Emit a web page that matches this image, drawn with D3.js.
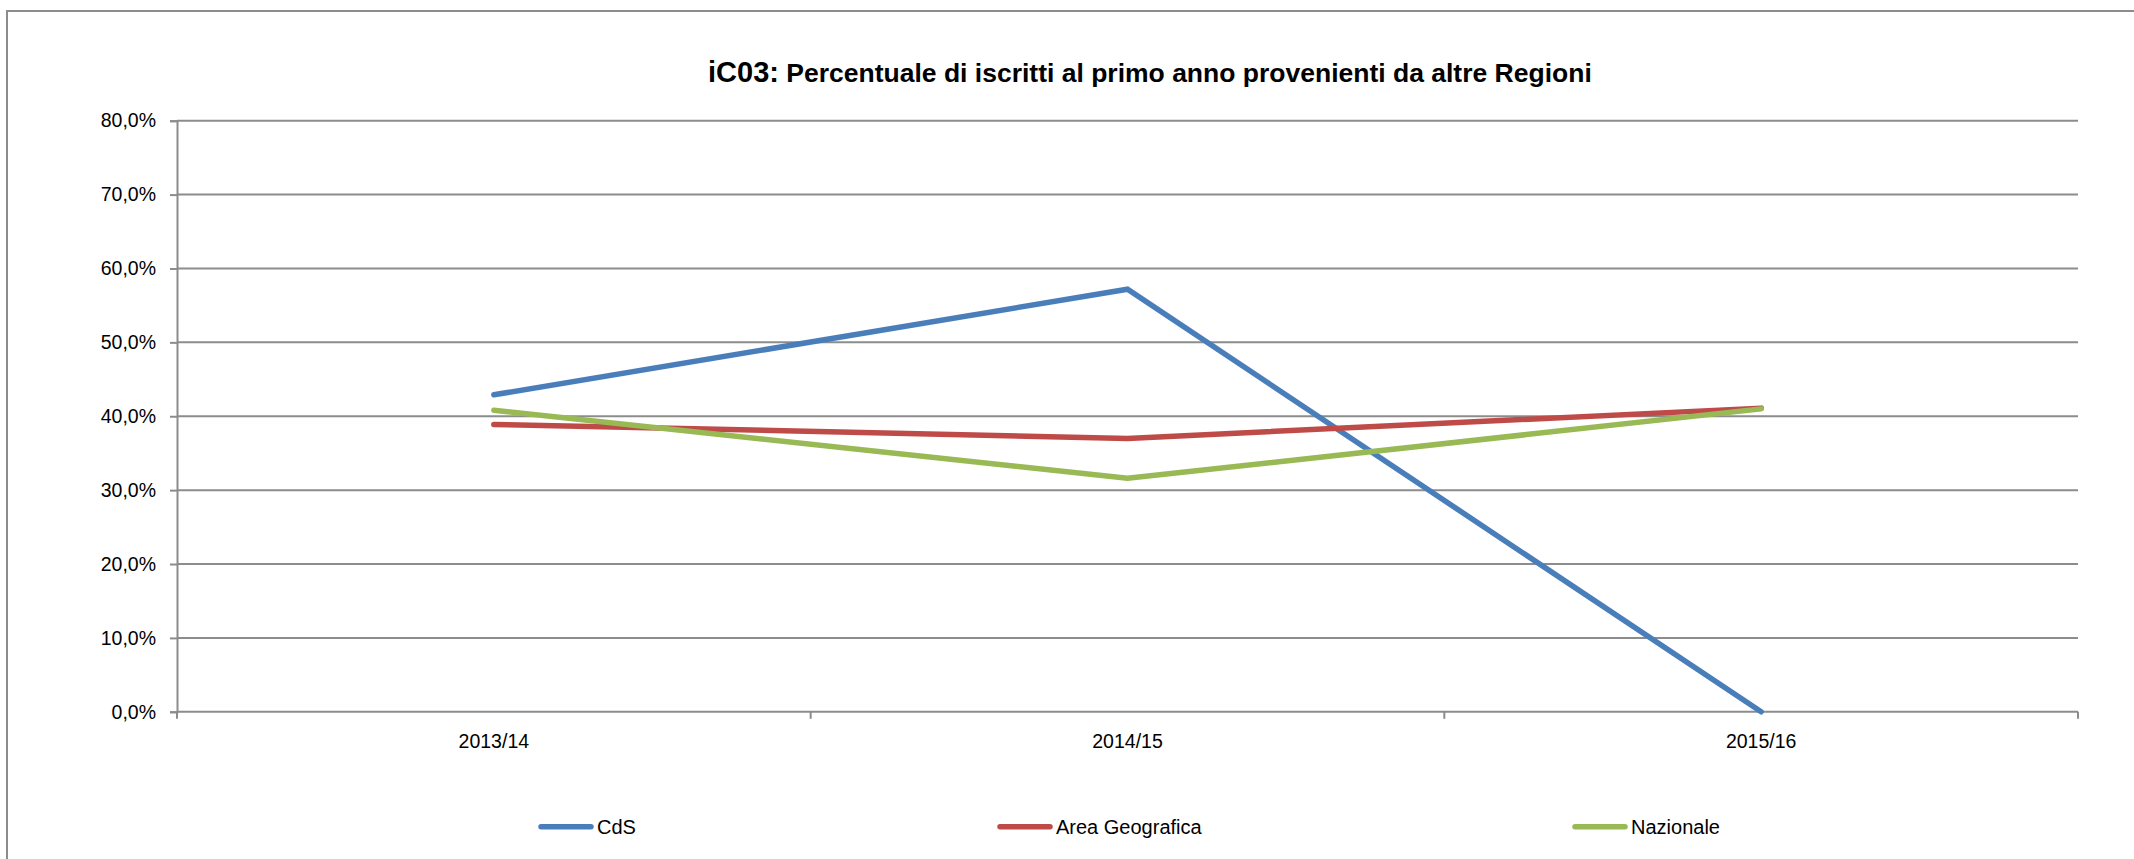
<!DOCTYPE html>
<html>
<head>
<meta charset="utf-8">
<script src="https://cdn.jsdelivr.net/npm/d3@7"></script>
<style>
  html, body { margin: 0; padding: 0; background: #fff; }
  svg { display: block; }
</style>
</head>
<body>
<svg id="chart" width="2134" height="859"></svg>
<script>
// categories and series
var categories = ["2013/14", "2014/15", "2015/16"];
var seriesNames = ["CdS", "Area Geografica", "Nazionale"];
var cdsValues = [0.429, 0.572, 0.0];
var areaValues = [0.389, 0.370, 0.411];
var nazValues = [0.408, 0.316, 0.410];
var yTicks = [0, 0.1, 0.2, 0.3, 0.4, 0.5, 0.6, 0.7, 0.8];
var colors = ["#4a7ebb", "#be4b48", "#98b954"];

(function () {
	var font = "'Liberation Sans', Arial, sans-serif";
	var svg = d3.select("#chart");

	var plotLeft = 177, plotRight = 2078, plotTop = 120.7, plotBottom = 711.8;

	// outer frame (right and bottom edges fall outside the picture)
	svg.append("path")
		.attr("d", "M7,870 L7,11 L2145,11")
		.style("fill", "none")
		.style("stroke", "#8c8c8c")
		.style("stroke-width", 2);

	var x = d3.scaleBand().domain(categories).range([plotLeft, plotRight]);
	var y = d3.scaleLinear().domain([0, 0.8]).range([plotBottom, plotTop]);

	var fmt = function (d) { return d3.format(".1f")(d * 100).replace(".", ",") + "%"; };

	// gridlines
	svg.append("g").selectAll("line").data(yTicks.slice(1)).enter().append("line")
		.attr("x1", plotLeft).attr("x2", plotRight)
		.attr("y1", function (d) { return y(d); })
		.attr("y2", function (d) { return y(d); })
		.style("stroke", "#8c8c8c")
		.style("stroke-width", 2);

	// y axis
	var yAxis = svg.append("g")
		.attr("transform", "translate(" + plotLeft + ",0)")
		.call(d3.axisLeft(y).tickValues(yTicks).tickFormat(fmt).tickSize(7).tickPadding(14));
	yAxis.selectAll("line, path").style("stroke", "#8c8c8c").style("stroke-width", 2);
	yAxis.selectAll("text")
		.style("font-family", font)
		.style("font-size", "19.5px")
		.style("fill", "#000");

	// x axis, ticks between categories
	var xAxis = svg.append("g")
		.attr("transform", "translate(0," + plotBottom + ")")
		.call(d3.axisBottom(x).tickSize(0).tickPadding(22));
	xAxis.select(".domain").remove();
	xAxis.append("line")
		.attr("x1", plotLeft).attr("x2", plotRight)
		.style("stroke", "#8c8c8c")
		.style("stroke-width", 2);
	var bounds = [plotLeft].concat(categories.map(function (c) { return x(c) + x.bandwidth(); }));
	xAxis.selectAll(".sep").data(bounds).enter().append("line")
		.attr("class", "sep")
		.attr("x1", function (d) { return d; })
		.attr("x2", function (d) { return d; })
		.attr("y1", 0).attr("y2", 7)
		.style("stroke", "#8c8c8c")
		.style("stroke-width", 2);
	xAxis.selectAll(".tick text")
		.style("font-family", font)
		.style("font-size", "19.5px")
		.style("fill", "#000");

	// lines
	var allSeries = [cdsValues, areaValues, nazValues];
	var line = d3.line()
		.x(function (d, i) { return x(categories[i]) + x.bandwidth() / 2; })
		.y(function (d) { return y(d); });

	svg.append("g").selectAll("path").data(allSeries).enter().append("path")
		.attr("d", line)
		.style("fill", "none")
		.style("stroke", function (d, i) { return colors[i]; })
		.style("stroke-width", 5.5)
		.style("stroke-linecap", "round")
		.style("stroke-linejoin", "miter");

	// title
	var title = svg.append("text")
		.attr("x", 708)
		.attr("y", 82)
		.style("font-family", font)
		.style("font-weight", "bold")
		.style("fill", "#000");
	title.append("tspan").style("font-size", "29px").text("iC03:");
	title.append("tspan").style("font-size", "26.5px").text(" Percentuale di iscritti al primo anno provenienti da altre Regioni");

	// legend
	var legendX = [541, 1000, 1575];
	var legend = svg.append("g").selectAll("g").data(seriesNames).enter().append("g")
		.attr("transform", function (d, i) { return "translate(" + legendX[i] + ",826.7)"; });
	legend.append("line")
		.attr("x1", 0).attr("x2", 50)
		.style("stroke", function (d, i) { return colors[i]; })
		.style("stroke-width", 5.5)
		.style("stroke-linecap", "round");
	legend.append("text")
		.attr("x", 56)
		.attr("dy", "0.35em")
		.style("font-family", font)
		.style("font-size", "20px")
		.style("fill", "#000")
		.text(function (d) { return d; });
})();
</script>
</body>
</html>
